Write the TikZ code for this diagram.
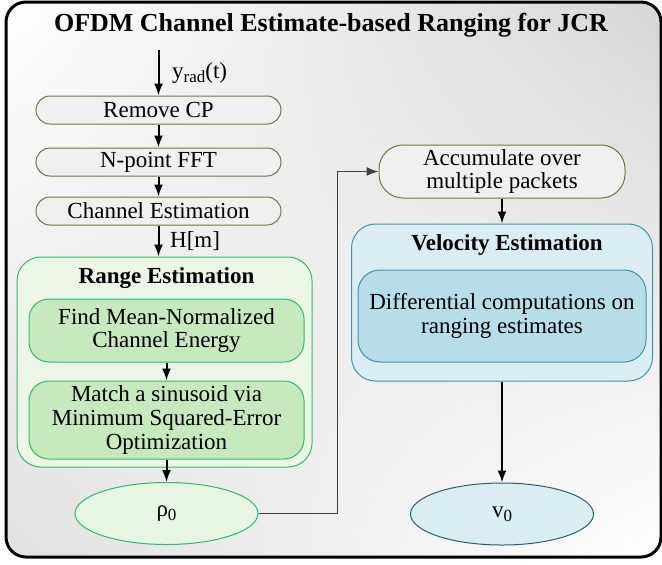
\documentclass[tikz,border=0pt]{standalone}
\usepackage{fontspec}
\setmainfont{Liberation Serif}
\usetikzlibrary{shapes.geometric,arrows.meta,shadings}

\definecolor{oliveline}{RGB}{105,120,70}
\definecolor{stagefill}{RGB}{240,240,240}
\definecolor{greenline}{RGB}{52,184,110}
\definecolor{greenouter}{RGB}{235,247,228}
\definecolor{greeninner}{RGB}{198,233,190}
\definecolor{greenout}{RGB}{229,247,226}
\definecolor{blueline}{RGB}{70,145,170}
\definecolor{blueouter}{RGB}{218,237,243}
\definecolor{blueinner}{RGB}{183,221,232}
\definecolor{bluedark}{RGB}{42,95,112}

\newcommand{\lowsub}[1]{\raisebox{-0.4ex}{\fontsize{8.5}{8.5}\selectfont #1}}

\tikzstyle{stage}=[draw=oliveline,fill=stagefill,line width=0.5pt,rounded corners=7pt,minimum width=122.5pt,minimum height=14pt,inner sep=0pt,align=center]
\tikzstyle{rgroup}=[draw=greenline,fill=greenouter,line width=0.5pt,rounded corners=12pt,inner sep=0pt]
\tikzstyle{rblock}=[draw=greenline,fill=greeninner,line width=0.5pt,rounded corners=10pt,minimum width=137.5pt,inner sep=0pt,align=center]
\tikzstyle{vgroup}=[draw=blueline,fill=blueouter,line width=0.5pt,rounded corners=12pt,inner sep=0pt]
\tikzstyle{vblock}=[draw=blueline,fill=blueinner,line width=0.5pt,rounded corners=11pt,minimum width=144pt,minimum height=46pt,inner sep=0pt,align=center]
\tikzstyle{result}=[ellipse,line width=0.5pt,minimum width=91.5pt,minimum height=31pt,inner sep=0pt]
\tikzstyle{heading}=[font=\fontsize{11.5}{12}\selectfont\bfseries]
\tikzstyle{flow}=[line width=1pt,-{Latex[length=6pt,width=4.5pt]}]
\tikzstyle{link}=[line width=0.7pt,draw=black!75,-{Latex[length=6pt,width=4.5pt]}]

\begin{document}
\begin{tikzpicture}[x=0.5pt,y=-0.5pt,font=\fontsize{11.5}{11.8}\selectfont]
\useasboundingbox (0,0) rectangle (662,564);
\shade[upper left=white,upper right=black!16,lower left=black!12,lower right=white,draw=black,line width=1.5pt,rounded corners=10pt] (6,2) rectangle (661,557);
\node[font=\fontsize{13}{15}\selectfont\bfseries] at (331,25) (title) {OFDM Channel Estimate-based Ranging for JCR};
% receive chain
\coordinate (rx) at (158.5,50);
\node[stage] at (158.5,110) (rm-cp)  {Remove CP};
\node[stage] at (158.5,162) (fft)    {N-point FFT};
\node[stage] at (158.5,211) (ch-est) {Channel Estimation};
\draw[flow] (rx) -- (rm-cp) node[midway,right=3pt] {y\lowsub{rad}(t)};
\draw[flow] (rm-cp) -- (fft);
\draw[flow] (fft) -- (ch-est);
% range estimation
\node[rgroup,minimum width=147.5pt,minimum height=105pt] at (164.5,362) (range) {};
\node[heading] at (166.5,278) (range-t) {Range Estimation};
\node[rblock,minimum height=31.5pt] at (166.5,330.5) (range-nrg) {Find Mean-Normalized\\Channel Energy};
\node[rblock,minimum height=39pt]   at (166.5,420)   (range-mse) {Match a sinusoid via\\Minimum Squared-Error\\Optimization};
\node[result,draw=greenline,fill=greenout] at (166.5,513.5) (rho) {ρ\lowsub{0}};
\draw[flow] (ch-est) -- (ch-est |- range.north) node[midway,right=2pt] {H[m]};
\draw[flow] (range-nrg) -- (range-mse);
\draw[flow] (range-mse) -- (rho);
% velocity estimation
\node[stage,minimum width=123pt,minimum height=26.5pt,rounded corners=12pt] at (502,171.5) (acc) {Accumulate over\\multiple packets};
\node[vgroup,minimum width=150.5pt,minimum height=78.5pt] at (502,302.5) (vel) {};
\node[heading] at (507,245) (vel-t) {Velocity Estimation};
\node[vblock] at (502,316) (vel-diff) {Differential computations on\\ranging estimates};
\node[result,draw=bluedark,fill=blueouter] at (502,514) (v0) {v\lowsub{0}};
\draw[link] (rho.east) -- +(79,0) |- (acc.west);
\draw[flow] (acc) -- (vel);
\draw[flow] (vel) -- (v0);
\end{tikzpicture}
\end{document}
